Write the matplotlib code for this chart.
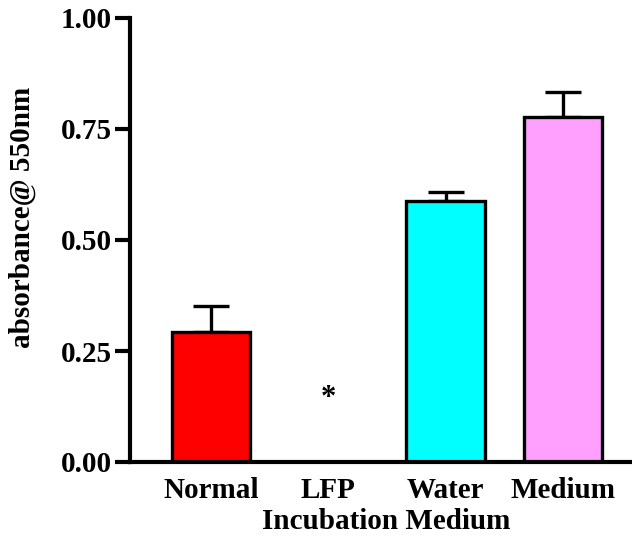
import numpy as np
import matplotlib
matplotlib.use('Agg')
import matplotlib.pyplot as plt

plt.rcParams['font.family'] = ['Liberation Serif', 'DejaVu Serif']
plt.rcParams['font.weight'] = 'bold'

groups = ['Normal', 'LFP', 'Water', 'Medium']
means = [0.293, 0.0, 0.588, 0.777]
errs = [0.058, 0.0, 0.020, 0.056]
colors = ['#ff0000', '#ffffff', '#00ffff', '#ffa0ff']
star_pos = 0.144   # height of the * over the LFP group

fig = plt.figure(figsize=(6.32, 5.45), dpi=100)
ax = fig.add_axes([130/632, 83/545, 1 - 130/632, (462 - 18)/545])

x = np.arange(len(groups))
for i in range(len(groups)):
    if means[i] <= 0:
        continue
    ax.bar(x[i], means[i], width=0.67, color=colors[i], edgecolor='black',
           linewidth=2.4, zorder=2)
    ax.errorbar(x[i], means[i], yerr=[[0], [errs[i]]], fmt='none',
                ecolor='black', elinewidth=2.4, capsize=13, capthick=2.4, zorder=1)

ax.text(x[1], star_pos, '*', ha='center', va='center', fontsize=22, fontweight='bold')

ax.set_xlim(-0.69, 3.59)
ax.set_ylim(0, 1.0)
ax.set_yticks([0, 0.25, 0.5, 0.75, 1.0])
ax.set_yticklabels(['0.00', '0.25', '0.50', '0.75', '1.00'])
ax.set_xticks(x)
ax.set_xticklabels(groups)
ax.tick_params(axis='x', length=0, pad=11, labelsize=21)
ax.tick_params(axis='y', length=11, width=3, pad=2, labelsize=21)

for s in ['top', 'right']:
    ax.spines[s].set_visible(False)
for s in ['left', 'bottom']:
    ax.spines[s].set_linewidth(3)

ax.set_xlabel('Incubation Medium', fontsize=21, fontweight='bold')
ax.xaxis.set_label_coords(0.51, -0.103)
ax.set_ylabel('absorbance@ 550nm', fontsize=21, fontweight='bold')
ax.yaxis.set_label_coords(-94/502, 0.55)

fig.savefig('out.png', dpi=100)
